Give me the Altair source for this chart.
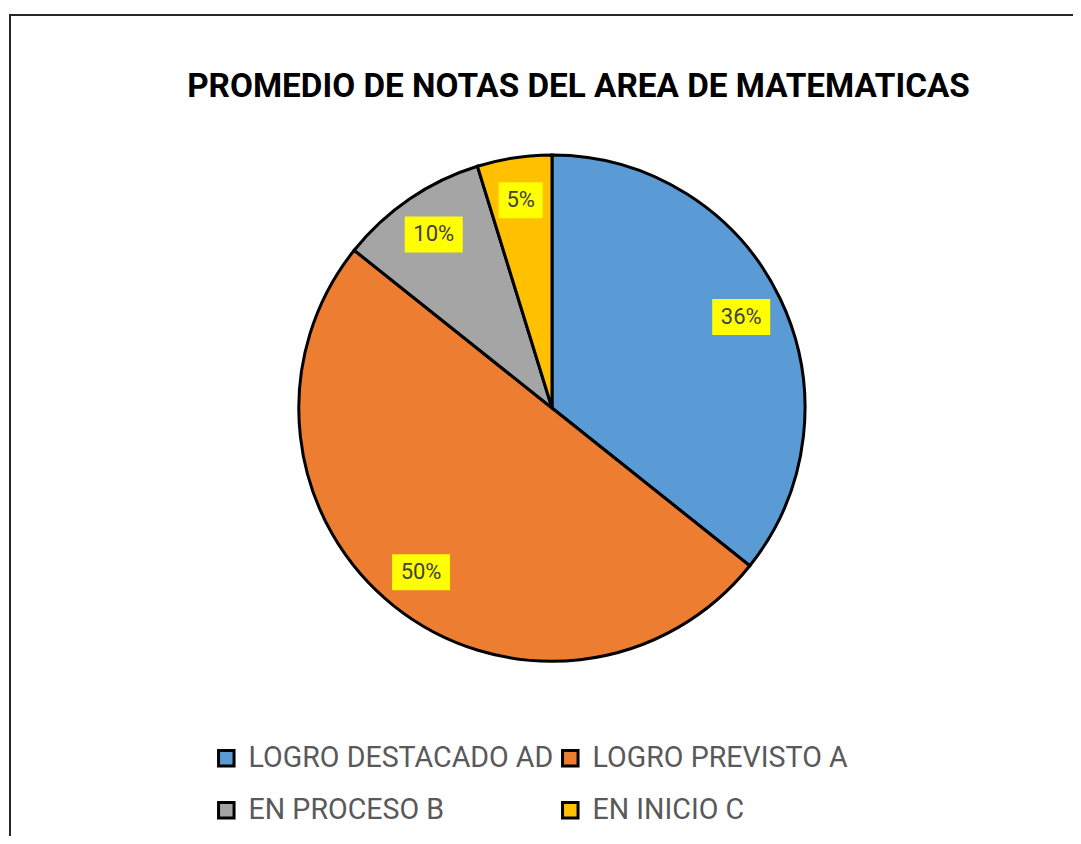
import altair as alt
import pandas as pd

titulo = "PROMEDIO DE NOTAS DEL AREA DE MATEMATICAS"
categorias = ["LOGRO DESTACADO AD", "LOGRO PREVISTO A", "EN PROCESO B", "EN INICIO C"]
cantidades = [15, 21, 4, 2]
etiquetas = ["36%", "50%", "10%", "5%"]
colores = ["#5B9BD5", "#ED7D31", "#A5A5A5", "#FFC000"]
# legend is laid out column by column, so list it as AD, B | A, C
orden_leyenda = [0, 2, 1, 3]

df = pd.DataFrame({
    "categoria": categorias,
    "cantidad": cantidades,
    "etiqueta": etiquetas,
    "orden": list(range(len(categorias))),
})

dominio = [categorias[i] for i in orden_leyenda]
rango = [colores[i] for i in orden_leyenda]

FONT = "Roboto"
CX, CY, R = 544, 400, 253
LR = 210

base = alt.Chart(df)

pie = base.mark_arc(outerRadius=R, stroke="black", strokeWidth=3).encode(
    theta=alt.Theta("cantidad:Q", stack=True),
    color=alt.Color(
        "categoria:N",
        scale=alt.Scale(domain=dominio, range=rango),
        legend=alt.Legend(
            title=None, orient="none", legendX=204, legendY=736, columns=2,
            symbolType="square", symbolSize=240, symbolStrokeColor="black",
            symbolStrokeWidth=3, labelFont=FONT, labelFontSize=28.6,
            labelColor="#595959", labelLimit=0, rowPadding=23,
            columnPadding=2, labelOffset=8,
        ),
    ),
    order=alt.Order("orden:Q"),
    x=alt.value(CX),
    y=alt.value(CY),
)

lab = base.transform_joinaggregate(total="sum(cantidad)").transform_window(
    acum="sum(cantidad)", sort=[alt.SortField("orden")], frame=[None, 0]
).transform_calculate(
    ang="2*PI*(datum.acum - datum.cantidad/2)/datum.total"
).transform_calculate(
    lx=f"{CX} + {LR}*sin(datum.ang)",
    ly=f"{CY} - {LR}*cos(datum.ang)",
    hw="7*length(datum.etiqueta) + 8",
).transform_calculate(
    bx1="datum.lx - datum.hw", bx2="datum.lx + datum.hw",
    by1="datum.ly - 18", by2="datum.ly + 18",
)

boxes = lab.mark_rect(fill="#FFFF00").encode(
    x=alt.X("bx1:Q", scale=None, axis=None),
    x2="bx2:Q",
    y=alt.Y("by1:Q", scale=None, axis=None),
    y2="by2:Q",
)

texts = lab.mark_text(font=FONT, fontSize=22, color="#404040").encode(
    x=alt.X("lx:Q", scale=None, axis=None),
    y=alt.Y("ly:Q", scale=None, axis=None),
    text="etiqueta:N",
)

border = alt.Chart(pd.DataFrame({"a": [0]})).mark_rect(
    fill="transparent", stroke="#262626", strokeWidth=2
).encode(
    x=alt.value(2), x2=alt.value(1200), y=alt.value(7), y2=alt.value(1000)
)

chart = alt.layer(border, pie, boxes, texts).properties(
    width=1065,
    height=828,
    autosize=alt.AutoSizeParams(type="none"),
    padding=0,
    title=alt.TitleParams(
        titulo, font=FONT, fontSize=33.3, fontWeight="bold", color="black",
        anchor="middle", dx=38, dy=100,
    ),
).configure_view(stroke=None)

chart.save("out.html", embed_options={"renderer": "svg", "actions": False})
